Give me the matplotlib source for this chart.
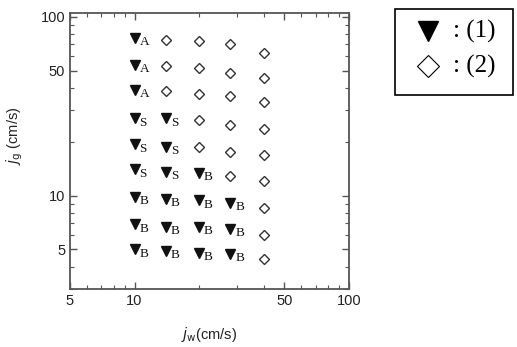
import numpy as np
import matplotlib
matplotlib.use('Agg')
import matplotlib.pyplot as plt
from matplotlib.lines import Line2D
from matplotlib.patches import Rectangle
from matplotlib.ticker import FixedLocator, NullFormatter

# Series (1): filled triangles, each with a flow-pattern letter
jw_1 = [10, 10, 10, 10, 10, 10, 10, 10, 10,
        14, 14, 14, 14, 14, 14,
        20, 20, 20, 20,
        28, 28, 28]
jg_1 = [76, 54, 39, 27, 19.3, 14.0, 9.8, 6.9, 5.0,
        27, 18.8, 13.6, 9.6, 6.7, 4.9,
        13.4, 9.4, 6.7, 4.8,
        9.1, 6.5, 4.7]
labels_1 = ['A', 'A', 'A', 'S', 'S', 'S', 'B', 'B', 'B',
            'S', 'S', 'S', 'B', 'B', 'B',
            'B', 'B', 'B', 'B',
            'B', 'B', 'B']

# Series (2): open diamonds
jw_2 = [14, 14, 14,
        20, 20, 20, 20, 20,
        28, 28, 28, 28, 28, 28,
        40, 40, 40, 40, 40, 40, 40, 40, 40]
jg_2 = [74, 53, 38.6,
        73, 52, 37.2, 26.6, 18.8,
        70.7, 48.6, 36.2, 24.9, 17.6, 12.9,
        62.9, 45.6, 33.5, 23.7, 16.9, 12.1, 8.5, 6.0, 4.4]

x_ticks = [5, 10, 50, 100]
y_ticks = [5, 10, 50, 100]
legend_labels = [': (1)', ': (2)']

W, H = 517, 347
plt.rcParams['font.family'] = ['Liberation Sans', 'DejaVu Sans']
fig = plt.figure(figsize=(W / 100, H / 100), dpi=100)
ax = fig.add_axes([70 / W, 58 / H, 279 / W, 276 / H])

ax.plot(jw_1, jg_1, linestyle='none', marker='v', ms=7.5, color='#111111')
ax.plot(jw_2, jg_2, linestyle='none', marker='D', ms=5.2, mfc='white',
        mec='#333333', mew=1.0)
for x, y, s in zip(jw_1, jg_1, labels_1):
    ax.annotate(s, (x, y), xytext=(3.5, -3), textcoords='offset points',
                ha='left', va='center', fontsize=9.5,
                family='Liberation Serif', color='#111111')

ax.set_xscale('log')
ax.set_yscale('log')
ax.set_xlim(5, 100)
ax.set_ylim(3, 105)

ax.xaxis.set_major_locator(FixedLocator(x_ticks))
ax.yaxis.set_major_locator(FixedLocator(y_ticks))
ax.set_xticklabels([str(t) for t in x_ticks])
ax.set_yticklabels([str(t) for t in y_ticks])
minor = [m * 10 ** e for e in range(0, 3) for m in range(2, 10)]
ax.xaxis.set_minor_locator(FixedLocator(minor))
ax.yaxis.set_minor_locator(FixedLocator(minor))
ax.xaxis.set_minor_formatter(NullFormatter())
ax.yaxis.set_minor_formatter(NullFormatter())
ax.tick_params(which='both', direction='in', top=True, right=True,
               color='#555555', labelsize=10.5, labelcolor='#222222')
ax.tick_params(which='major', length=5, width=1)
ax.tick_params(which='minor', length=3, width=0.8)
for sp in ax.spines.values():
    sp.set_color('#555555')
    sp.set_linewidth(1.3)

ax.set_xlabel(r'$j_{\mathrm{w}}$(cm/s)', fontsize=10.5, color='#222222',
              labelpad=12)
ax.set_ylabel(r'$j_{\mathrm{g}}$ (cm/s)', fontsize=10.5, color='#222222')
ax.yaxis.set_label_coords(-0.161, 0.554)

# Legend drawn by hand: boxed, large markers, serif text.
fig.add_artist(Rectangle((395 / W, 1 - 95 / H), 118 / W, 86 / H,
                         transform=fig.transFigure, fill=False,
                         edgecolor='black', linewidth=1.2))
leg_markers = [dict(marker='v', ms=15, color='black'),
               dict(marker='D', ms=11.5, mfc='white', mec='black', mew=0.8)]
for row, (style, text) in enumerate(zip(leg_markers, legend_labels)):
    yc = 1 - (31 + 35 * row) / H
    fig.add_artist(Line2D([428 / W], [yc], linestyle='none',
                          transform=fig.transFigure, **style))
    fig.text(453 / W, yc, text, ha='left', va='center', fontsize=18,
             family='Liberation Serif', color='black')

fig.savefig('out.png', dpi=100)
